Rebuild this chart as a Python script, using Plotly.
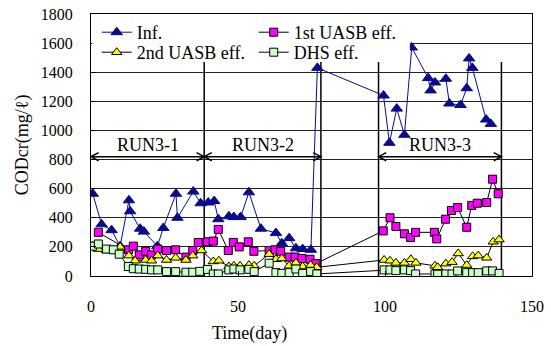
import plotly.graph_objects as go

# ---- data ----
inf_day = [0.6, 3.6, 7.0, 9.9, 12.9, 13.3, 16.7, 18.0, 22.6, 24.6, 28.9, 29.4, 34.8, 37.3, 39.9,
           41.9, 43.3, 46.9, 48.6, 50.9, 53.7, 57.8, 62.9, 64.9, 67.4, 69.7, 72.0, 74.8, 77.0, 99.5,
           101.5, 104.0, 106.6, 109.1, 114.7, 115.5, 117.0, 120.7, 121.9, 125.7, 127.8, 128.6, 129.7, 134.4, 136.0]
inf_val = [565, 355, 315, 205, 520, 445, 325, 305, 205, 330, 565, 400, 580, 500, 505,
           515, 390, 410, 405, 405, 575, 325, 295, 225, 260, 190, 185, 180, 1430, 1240,
           915, 1150, 970, 1570, 1360, 1275, 1330, 1355, 1185, 1175, 1290, 1495, 1430, 1075, 1045]

u1_day = [2.5, 12.7, 14.4, 16.4, 18.6, 20.6, 22.7, 25.7, 28.8, 32.3, 34.6, 36.5, 39.6, 41.6, 43.3,
          46.7, 48.4, 50.4, 53.5, 55.4, 60.6, 62.6, 64.5, 67.4, 69.4, 71.7, 74.5, 76.5, 99.4, 101.7,
          103.7, 106.6, 108.7, 110.4, 116.8, 117.6, 120.6, 122.6, 124.7, 127.8, 129.5, 131.4, 134.6, 136.6, 138.5]
u1_val = [300, 180, 205, 145, 170, 145, 185, 175, 180, 130, 175, 230, 235, 240, 320,
          175, 230, 200, 235, 170, 175, 180, 170, 130, 130, 120, 115, 85, 310, 400,
          340, 290, 265, 300, 300, 255, 390, 450, 470, 335, 485, 500, 505, 665, 565]

u2_day = [0.5, 2.5, 5.3, 7.6, 9.9, 12.9, 15.0, 18.6, 20.6, 22.7, 25.7, 28.8, 32.3, 34.6, 37.6,
          41.6, 43.5, 46.9, 48.6, 50.7, 53.7, 55.5, 60.6, 62.9, 64.9, 67.4, 69.7, 72.0, 74.7, 76.8,
          99.7, 101.7, 103.7, 106.6, 108.8, 110.5, 117.0, 117.9, 120.7, 122.8, 124.9, 127.8, 129.8, 131.7, 134.6,
          136.8, 138.8]
u2_val = [205, 185, 175, 180, 200, 140, 105, 110, 105, 140, 110, 125, 110, 140, 175,
          100, 105, 65, 70, 70, 75, 70, 150, 115, 120, 70, 90, 65, 75, 60,
          110, 105, 90, 90, 115, 90, 70, 60, 85, 95, 155, 75, 135, 140, 125,
          235, 250]

dhs_day = [0.5, 2.5, 5.3, 7.6, 9.6, 12.7, 14.4, 16.4, 18.6, 20.6, 22.7, 25.7, 28.8, 32.3, 34.6,
           37.0, 39.6, 41.6, 43.3, 46.9, 48.6, 50.7, 53.7, 55.5, 60.6, 62.9, 64.9, 67.4, 69.7, 72.0,
           74.7, 76.8, 99.7, 101.7, 103.7, 106.6, 108.7, 110.4, 117.0, 117.9, 120.7, 122.8, 124.7, 127.8, 129.8,
           131.7, 134.6, 136.6, 138.8]
dhs_val = [205, 220, 185, 180, 150, 65, 50, 48, 46, 42, 42, 30, 30, 26, 26,
           32, 45, 14, 14, 42, 48, 42, 46, 30, 88, 23, 18, 23, 48, 18,
           30, 14, 42, 42, 37, 42, 37, 14, 14, 12, 14, 14, 35, 23, 23,
           23, 35, 35, 18]

series_names = ["Inf.", "1st UASB eff.", "2nd UASB eff.", "DHS eff."]

run_labels = ["RUN3-1", "RUN3-2", "RUN3-3"]
run_start = [0, 38.5, 97.8]
run_end = [38.5, 78.2, 139.6]
run_lines = [38.5, 78.2, 97.8, 139.6]
run_line_top = 1470
arrow_level = 820
label_level = 900

x_ticks = [0, 50, 100, 150]
y_ticks = list(range(0, 1801, 200))

FONT = "Liberation Serif"

fig = go.Figure()
fig.add_trace(go.Scatter(x=inf_day, y=inf_val, name=series_names[0], mode="lines+markers",
                         legend="legend",
                         line=dict(color="#0A0A8C", width=1),
                         marker=dict(symbol="triangle-up", size=10, color="#0A0A8C",
                                     line=dict(color="#0A0A8C", width=1))))
fig.add_trace(go.Scatter(x=u1_day, y=u1_val, name=series_names[1], mode="lines+markers",
                         legend="legend",
                         line=dict(color="black", width=1),
                         marker=dict(symbol="square", size=8, color="#FF00FF",
                                     line=dict(color="black", width=1))))
fig.add_trace(go.Scatter(x=u2_day, y=u2_val, name=series_names[2], mode="lines+markers",
                         legend="legend2",
                         line=dict(color="black", width=1),
                         marker=dict(symbol="triangle-up", size=9, color="#FFFF00",
                                     line=dict(color="black", width=1))))
fig.add_trace(go.Scatter(x=dhs_day, y=dhs_val, name=series_names[3], mode="lines+markers",
                         legend="legend2",
                         line=dict(color="black", width=1),
                         marker=dict(symbol="square", size=8, color="#CCFFCC",
                                     line=dict(color="black", width=1))))

shapes = []
for xv in run_lines:
    shapes.append(dict(type="line", xref="x", yref="y", x0=xv, x1=xv, y0=0, y1=run_line_top,
                       line=dict(color="black", width=1.5), layer="below"))
# arrows with open chevron heads
hx, hy = 2.6, 28
annotations = []
for lab, s, e in zip(run_labels, run_start, run_end):
    shapes.append(dict(type="line", xref="x", yref="y", x0=s, x1=e, y0=arrow_level, y1=arrow_level,
                       line=dict(color="black", width=1.5), layer="above"))
    shapes.append(dict(type="path", xref="x", yref="y",
                       path=f"M {s+hx},{arrow_level+hy} L {s},{arrow_level} L {s+hx},{arrow_level-hy}",
                       line=dict(color="black", width=1.5), layer="above"))
    shapes.append(dict(type="path", xref="x", yref="y",
                       path=f"M {e-hx},{arrow_level+hy} L {e},{arrow_level} L {e-hx},{arrow_level-hy}",
                       line=dict(color="black", width=1.5), layer="above"))
    annotations.append(dict(x=(s + e) / 2, y=label_level, xref="x", yref="y", text=lab,
                            showarrow=False, font=dict(family=FONT, size=18, color="black"),
                            yanchor="middle"))

# white legend box area
shapes.append(dict(type="rect", xref="paper", yref="paper", x0=0.003, x1=0.723, y0=0.817, y1=0.996,
                   fillcolor="white", line=dict(width=0), layer="above"))

annotations.append(dict(x=0.36, y=-0.221, xref="paper", yref="paper", text="Time(day)",
                        showarrow=False, font=dict(family=FONT, size=18, color="black"),
                        xanchor="center", yanchor="middle"))
annotations.append(dict(x=-0.156, y=0.5, xref="paper", yref="paper", text="CODcr(mg/ℓ)",
                        textangle=-90, showarrow=False,
                        font=dict(family=FONT, size=18, color="black"),
                        xanchor="center", yanchor="middle"))

leg_common = dict(orientation="h", xanchor="left", yanchor="top",
                  entrywidth=112, entrywidthmode="pixels", bgcolor="rgba(0,0,0,0)",
                  font=dict(family=FONT, size=18, color="black"),
                  itemwidth=30, tracegroupgap=0)

fig.update_layout(
    width=551, height=346,
    margin=dict(l=91, r=19, t=14, b=70, autoexpand=False),
    paper_bgcolor="white", plot_bgcolor="white",
    font=dict(family=FONT, size=16, color="black"),
    showlegend=True,
    legend=dict(x=0.013, y=1.0, **leg_common),
    legend2=dict(x=0.013, y=1.0 - 20 / 262, **leg_common),
    shapes=shapes, annotations=annotations,
)
fig.update_xaxes(range=[0, 150], tickvals=x_ticks, showgrid=False, zeroline=False,
                 showline=True, linecolor="black", linewidth=1, mirror=True,
                 ticks="inside", ticklen=5, tickcolor="black", automargin=False,
                 ticklabeloverflow="allow",
                 tickfont=dict(family=FONT, size=16), ticklabelstandoff=16)
fig.update_yaxes(range=[0, 1800], tickvals=y_ticks, showgrid=True, gridcolor="#222222",
                 gridwidth=1, zeroline=False,
                 showline=True, linecolor="black", linewidth=1, mirror=True,
                 ticks="inside", ticklen=5, tickcolor="black", automargin=False,
                 ticklabeloverflow="allow",
                 tickfont=dict(family=FONT, size=16), ticklabelstandoff=14)

# remove the default page margin so the figure sits at the window's top-left corner
fig.write_html("out.html", config={"displayModeBar": False},
               post_script="document.body.style.margin='0';document.body.style.overflow='hidden';")
